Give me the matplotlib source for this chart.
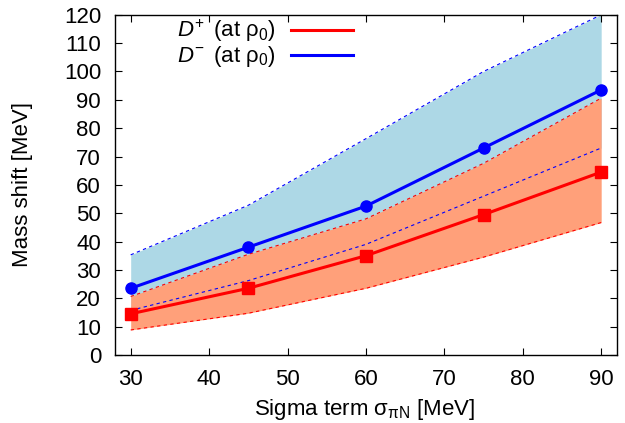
import numpy as np
import matplotlib.pyplot as plt

plt.rcParams['font.family'] = ['Liberation Sans', 'DejaVu Sans']
plt.rcParams['mathtext.fontset'] = 'custom'
plt.rcParams['mathtext.rm'] = 'Liberation Sans'
plt.rcParams['mathtext.it'] = 'Liberation Sans:italic'
plt.rcParams['font.size'] = 16

# sigma term values [MeV]
sigma = [30, 45, 60, 75, 90]

# D+ mass shift and its band
dplus = [14.5, 23.5, 35.0, 49.5, 64.5]
dplus_lo = [8.8, 14.7, 23.5, 34.5, 46.7]
dplus_hi = [20.6, 35.5, 48.0, 67.6, 90.6]

# D- mass shift and its band
dminus = [23.5, 38.0, 52.5, 73.0, 93.5]
dminus_lo = [15.7, 26.2, 39.0, 56.0, 73.0]
dminus_hi = [35.3, 52.8, 76.3, 100.0, 120.0]

fig = plt.figure(figsize=(6.25, 4.23), dpi=100)
ax = fig.add_axes([0.184, 0.161, 0.803, 0.804])

dash = (0, (3, 3))
ax.fill_between(sigma, dminus_lo, dminus_hi, color='#add8e6', lw=0, zorder=1)
ax.plot(sigma, dminus_hi, color='blue', lw=0.8, ls=dash, zorder=1.5)
ax.fill_between(sigma, dplus_lo, dplus_hi, color='#ffa07a', lw=0, zorder=2)
ax.plot(sigma, dplus_lo, color='red', lw=0.8, ls=dash, zorder=2.5)
ax.plot(sigma, dplus_hi, color='red', lw=0.8, ls=dash, zorder=2.5)
ax.plot(sigma, dminus_lo, color='blue', lw=0.8, ls=dash, zorder=3)

ax.plot(sigma, dplus, color='red', lw=2.2, marker='s', ms=8, zorder=4)
ax.plot(sigma, dminus, color='blue', lw=2.2, marker='o', ms=8, zorder=4)

# legend handles without markers
h1, = ax.plot([], [], color='red', lw=2.2)
h2, = ax.plot([], [], color='blue', lw=2.2)
ax.legend([h1, h2], [r'$D^{+}\,$ (at ρ$_0$)', r'$D^{-}\,$ (at ρ$_0$)'],
          loc='upper right', bbox_to_anchor=(0.50, 1.03), frameon=False,
          markerfirst=False, handlelength=2.75, handletextpad=0.7,
          labelspacing=0.0, borderaxespad=0.2)

ax.set_xlim(28, 92)
ax.set_ylim(0, 120)
ax.set_xticks(np.arange(30, 91, 10))
ax.set_yticks(np.arange(0, 121, 10))
ax.tick_params(direction='in', top=True, right=True, length=5, width=0.8, pad=10)
for s in ax.spines.values():
    s.set_linewidth(1.0)

ax.set_xlabel(r'Sigma term σ$_{\mathrm{\pi N}}$ [MeV]')
ax.set_ylabel('Mass shift [MeV]')
ax.xaxis.set_label_coords(0.497, -0.125)
ax.yaxis.set_label_coords(-0.163, 0.5)

fig.savefig('out.png', dpi=100)
